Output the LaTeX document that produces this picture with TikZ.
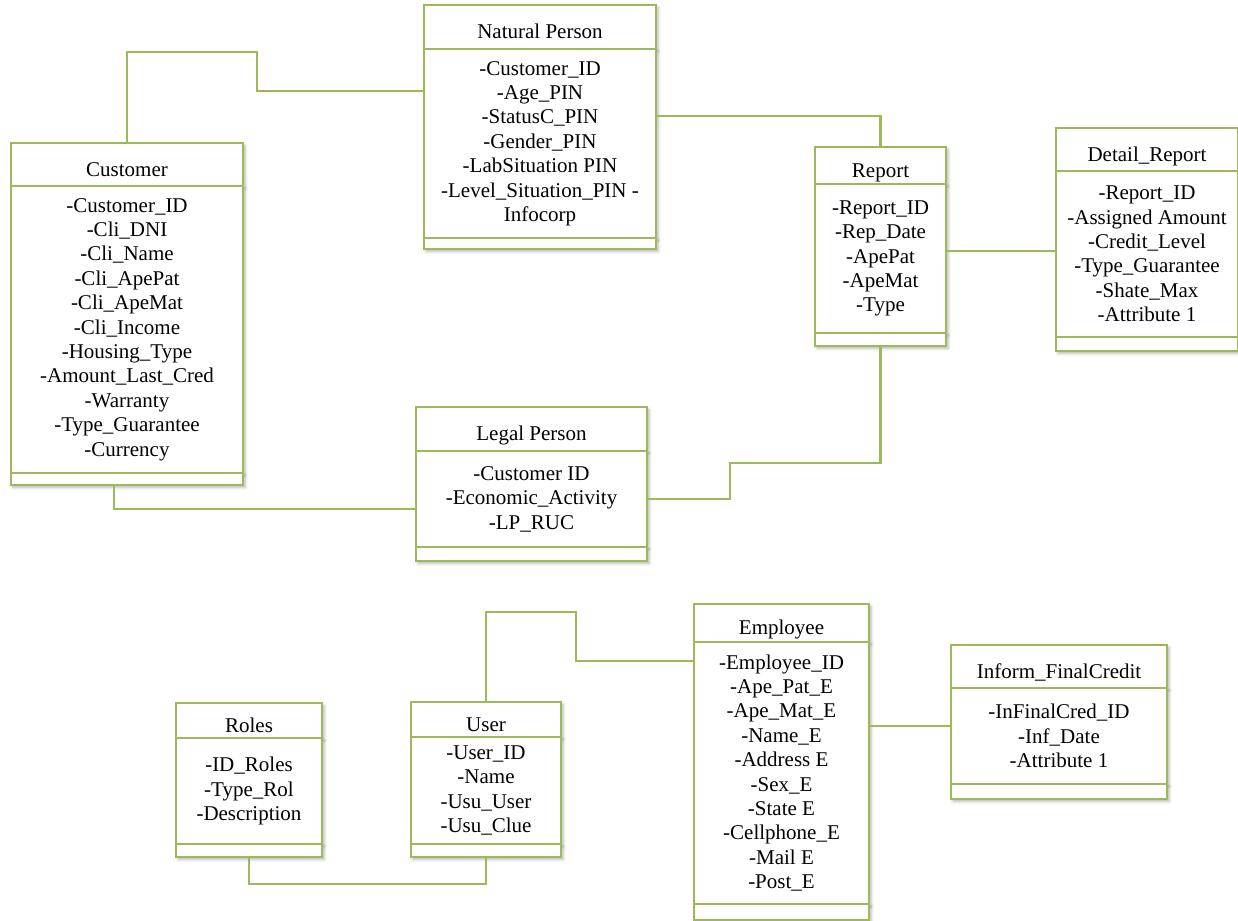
\documentclass[tikz,border=0pt]{standalone}
\usepackage{fontspec}
\setmainfont{Liberation Serif}
\usetikzlibrary{positioning, shadows.blur}
\definecolor{umlgreen}{RGB}{155,187,89}

\tikzset{
	classbox/.style={draw=umlgreen, line width=1.2pt, fill=white, inner sep=0pt, outer sep=0pt,
		blur shadow={shadow xshift=1pt, shadow yshift=-1.2pt, shadow blur radius=1.5pt, shadow opacity=30}},
	classhead/.style={classbox, text height=2.8ex, text depth=.2ex},
	classattrs/.style={classbox, align=center},
	classops/.style={classbox},
	link/.style={draw=umlgreen, line width=1.2pt}
}

\begin{document}
\begin{tikzpicture}[x=0.5pt, y=-0.5pt, font=\fontsize{10.5}{12.2}\selectfont]
		\useasboundingbox (0,0) rectangle (1238,921);

		% Customer
		\node[classhead, minimum width=116pt, minimum height=21.5pt, anchor=north west] (cust) at (11,143) {Customer};
		\node[classattrs, minimum width=116pt, minimum height=143.5pt, below=0pt of cust] (cust-attr)
		{-Customer\_ID\\-Cli\_DNI\\-Cli\_Name\\-Cli\_ApePat\\-Cli\_ApeMat\\-Cli\_Income\\-Housing\_Type\\-Amount\_Last\_Cred\\-Warranty\\-Type\_Guarantee\\-Currency};
		\node[classops, minimum width=116pt, minimum height=6pt, below=0pt of cust-attr] (cust-ops) {};

		% Natural Person
		\node[classhead, minimum width=116pt, minimum height=22pt, anchor=north west] (natp) at (424,5) {Natural Person};
		\node[classattrs, minimum width=116pt, minimum height=94.5pt, below=0pt of natp] (natp-attr)
		{-Customer\_ID\\-Age\_PIN\\-StatusC\_PIN\\-Gender\_PIN\\-LabSituation PIN\\-Level\_Situation\_PIN -\\Infocorp};
		\node[classops, minimum width=116pt, minimum height=5.5pt, below=0pt of natp-attr] (natp-ops) {};

		% Report
		\node[classhead, minimum width=65.5pt, minimum height=18.5pt, anchor=north west] (rep) at (815,147) {Report};
		\node[classattrs, minimum width=65.5pt, minimum height=74.5pt, below=0pt of rep] (rep-attr)
		{-Report\_ID\\-Rep\_Date\\-ApePat\\-ApeMat\\-Type};
		\node[classops, minimum width=65.5pt, minimum height=6.5pt, below=0pt of rep-attr] (rep-ops) {};

		% Detail_Report
		\node[classhead, minimum width=91pt, minimum height=21.5pt, anchor=north west] (drep) at (1056,128) {Detail\_Report};
		\node[classattrs, minimum width=91pt, minimum height=83pt, below=0pt of drep] (drep-attr)
		{-Report\_ID\\-Assigned Amount\\-Credit\_Level\\-Type\_Guarantee\\-Shate\_Max\\-Attribute 1};
		\node[classops, minimum width=91pt, minimum height=7pt, below=0pt of drep-attr] (drep-ops) {};

		% Legal Person
		\node[classhead, minimum width=115.5pt, minimum height=22pt, anchor=north west] (legal) at (416,407) {Legal Person};
		\node[classattrs, minimum width=115.5pt, minimum height=48pt, below=0pt of legal] (legal-attr)
		{-Customer ID\\-Economic\_Activity\\-LP\_RUC};
		\node[classops, minimum width=115.5pt, minimum height=7pt, below=0pt of legal-attr] (legal-ops) {};

		% Roles
		\node[classhead, minimum width=73pt, minimum height=17.5pt, anchor=north west] (roles) at (176,703) {Roles};
		\node[classattrs, minimum width=73pt, minimum height=53pt, below=0pt of roles] (roles-attr)
		{-ID\_Roles\\-Type\_Rol\\-Description};
		\node[classops, minimum width=73pt, minimum height=6.5pt, below=0pt of roles-attr] (roles-ops) {};

		% User
		\node[classhead, minimum width=75pt, minimum height=17.5pt, anchor=north west] (user) at (411,702) {User};
		\node[classattrs, minimum width=75pt, minimum height=53.5pt, below=0pt of user] (user-attr)
		{-User\_ID\\-Name\\-Usu\_User\\-Usu\_Clue};
		\node[classops, minimum width=75pt, minimum height=6.5pt, below=0pt of user-attr] (user-ops) {};

		% Employee
		\node[classhead, minimum width=87.5pt, minimum height=19pt, anchor=north west] (emp) at (694,604) {Employee};
		\node[classattrs, minimum width=87.5pt, minimum height=131pt, below=0pt of emp] (emp-attr)
		{-Employee\_ID\\-Ape\_Pat\_E\\-Ape\_Mat\_E\\-Name\_E\\-Address E\\-Sex\_E\\-State E\\-Cellphone\_E\\-Mail E\\-Post\_E};
		\node[classops, minimum width=87.5pt, minimum height=8pt, below=0pt of emp-attr] (emp-ops) {};

		% Inform_FinalCredit
		\node[classhead, minimum width=108pt, minimum height=21.5pt, anchor=north west] (inf) at (951,645) {Inform\_FinalCredit};
		\node[classattrs, minimum width=108pt, minimum height=48pt, below=0pt of inf] (inf-attr)
		{-InFinalCred\_ID\\-Inf\_Date\\-Attribute 1};
		\node[classops, minimum width=108pt, minimum height=7.5pt, below=0pt of inf-attr] (inf-ops) {};

		% links
		\draw[link] (cust.north) |- (257,52) |- (natp-attr.west |- 0,91);
		\draw[link] (natp-attr.east |- 0,116) -| (rep.north);
		\draw[link] (rep-attr.east |- 0,251) -- (drep-attr.west |- 0,251);
		\draw[link] (rep-ops.south) |- (730,463) |- (legal-attr.east);
		\draw[link] (cust-ops.south -| 114,0) |- (legal-attr.west |- 0,509);
		\draw[link] (roles-ops.south) -- ++(0,27) -| (user-ops.south);
		\draw[link] (user.north) |- (576,612) |- (emp-attr.west |- 0,661);
		\draw[link] (emp-attr.east |- 0,726) -- (inf-attr.west |- 0,726);
\end{tikzpicture}
\end{document}
